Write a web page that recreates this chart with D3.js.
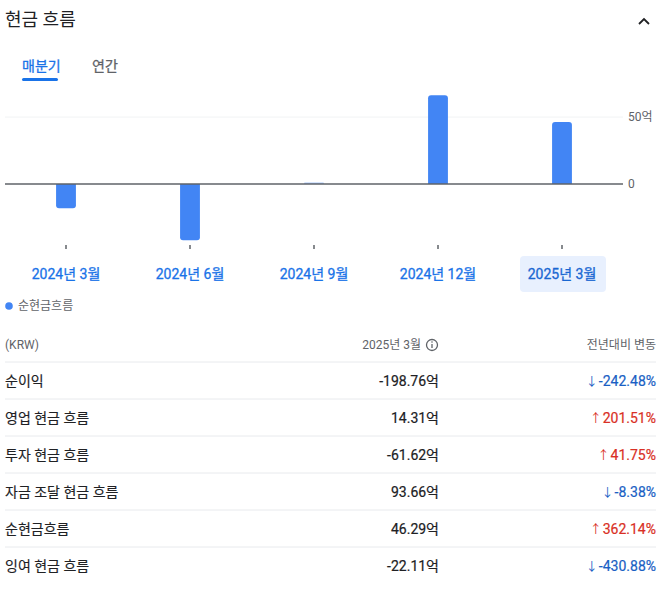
<!DOCTYPE html>
<html>
<head>
<meta charset="utf-8">
<script src="https://cdn.jsdelivr.net/npm/d3@7"></script>
<style>
  html, body { margin: 0; padding: 0; background: #fff; }
  svg { display: block; font-family: Roboto, "Noto Sans CJK KR", sans-serif; }
</style>
</head>
<body>
<svg id="chart" width="663" height="597"></svg>
<script>
// ---- data ----
const categories = ["2024년 3월", "2024년 6월", "2024년 9월", "2024년 12월", "2025년 3월"];
const netCashFlow = [-18.1, -42.1, 1.2, 66.2, 46.29];
const yTicks = [0, 50];
const rowLabels = ["순이익", "영업 현금 흐름", "투자 현금 흐름", "자금 조달 현금 흐름", "순현금흐름", "잉여 현금 흐름"];
const rowValues = ["-198.76억", "14.31억", "-61.62억", "93.66억", "46.29억", "-22.11억"];
const rowChanges = [-242.48, 201.51, 41.75, -8.38, 362.14, -430.88];
const rowChangeUp = [false, true, true, false, true, false];

const svg = d3.select("#chart");
const BLUE = "#1a73e8";
const FONT = 'Roboto, "Noto Sans CJK KR", sans-serif';

// ---- header ----
svg.append("text").attr("x", 5).attr("y", 26).attr("font-size", 18)
  .attr("fill", "#202124").text("현금 흐름");
svg.append("path").attr("d", "M639,24 L644,19 L649,24").attr("fill", "none")
  .attr("stroke", "#202124").attr("stroke-width", 1.8);

svg.append("text").attr("x", 22).attr("y", 71).attr("font-size", 14)
  .attr("fill", BLUE).attr("stroke", BLUE).attr("stroke-width", 0.3).text("매분기");
svg.append("rect").attr("x", 22).attr("y", 78).attr("width", 36).attr("height", 3)
  .attr("rx", 1.5).attr("fill", BLUE);
svg.append("text").attr("x", 92).attr("y", 71).attr("font-size", 14)
  .attr("fill", "#5f6368").attr("stroke", "#5f6368").attr("stroke-width", 0.3).text("연간");

// ---- chart ----
const x = d3.scaleBand().domain(categories).range([4, 624]).paddingInner(0.84).paddingOuter(0.42);
const pxPer = 1.339;
const y = d3.scaleLinear().domain([-50, 75]).range([184 + 50 * pxPer, 184 - 75 * pxPer]);

// gridline
svg.append("line").attr("x1", 5).attr("x2", 623).attr("y1", y(50)).attr("y2", y(50))
  .attr("stroke", "#f1f3f4").attr("stroke-width", 1);

// bars with rounded outer end
const r = 3;
function barPath(d, i) {
  const x0 = x(categories[i]), w = x.bandwidth();
  const y0 = y(0), y1 = y(d);
  const h = Math.abs(y1 - y0);
  const rr = Math.min(r, h / 2, w / 2);
  if (d >= 0) {
    return `M${x0},${y0} L${x0},${y1 + rr} Q${x0},${y1} ${x0 + rr},${y1} L${x0 + w - rr},${y1} Q${x0 + w},${y1} ${x0 + w},${y1 + rr} L${x0 + w},${y0} Z`;
  } else {
    return `M${x0},${y0} L${x0},${y1 - rr} Q${x0},${y1} ${x0 + rr},${y1} L${x0 + w - rr},${y1} Q${x0 + w},${y1} ${x0 + w},${y1 - rr} L${x0 + w},${y0} Z`;
  }
}
svg.append("g").selectAll("path").data(netCashFlow).join("path")
  .attr("d", (d, i) => barPath(d, i))
  .attr("fill", "#4285f4")
  .attr("fill-opacity", d => Math.abs(d) < 2 ? 0.45 : 1);

// zero line
svg.append("line").attr("x1", 5).attr("x2", 623).attr("y1", y(0)).attr("y2", y(0))
  .attr("stroke", "#5f6368").attr("stroke-width", 1.3);

// right axis
const yAxis = d3.axisRight(y).tickValues(yTicks).tickSize(0).tickPadding(5)
  .tickFormat(d => d === 0 ? "0" : d + "억");
const gy = svg.append("g").attr("transform", "translate(623,0)").call(yAxis);
gy.select(".domain").remove();
gy.selectAll("text").attr("font-size", 12).attr("fill", "#5f6368").attr("font-family", FONT);

// highlight for selected period
const last = categories[categories.length - 1];
const cx = x(last) + x.bandwidth() / 2;
svg.append("rect").attr("x", cx - 42).attr("y", 256).attr("width", 86).attr("height", 36)
  .attr("rx", 4).attr("fill", "#e8f0fe");

// bottom axis
const xAxis = d3.axisBottom(x).tickSize(4).tickPadding(20);
const gx = svg.append("g").attr("transform", "translate(0,245)").call(xAxis);
gx.select(".domain").remove();
gx.selectAll(".tick line").attr("stroke", "#5f6368").attr("stroke-width", 1.5);
gx.selectAll("text").attr("font-size", 14).attr("font-weight", 400)
  .attr("fill", BLUE).attr("stroke", BLUE).attr("stroke-width", 0.3).attr("font-family", FONT);
gx.selectAll(".tick").filter(d => d === last).select("text")
  .attr("fill", "#1967d2").attr("stroke", "#1967d2");

// legend
svg.append("circle").attr("cx", 9).attr("cy", 306).attr("r", 3.8).attr("fill", "#4285f4");
svg.append("text").attr("x", 18).attr("y", 310).attr("font-size", 12)
  .attr("fill", "#5f6368").text("순현금흐름");

// ---- table ----
svg.append("text").attr("x", 5).attr("y", 349).attr("font-size", 12)
  .attr("fill", "#5f6368").text("(KRW)");
svg.append("text").attr("x", 421).attr("y", 349).attr("font-size", 12)
  .attr("fill", "#5f6368").attr("text-anchor", "end").text("2025년 3월");
svg.append("circle").attr("cx", 432).attr("cy", 345).attr("r", 5.5).attr("fill", "none")
  .attr("stroke", "#5f6368").attr("stroke-width", 1.3);
svg.append("line").attr("x1", 432).attr("x2", 432).attr("y1", 344).attr("y2", 348)
  .attr("stroke", "#5f6368").attr("stroke-width", 1.3);
svg.append("circle").attr("cx", 432).attr("cy", 342).attr("r", 0.8).attr("fill", "#5f6368");
svg.append("text").attr("x", 656).attr("y", 349).attr("font-size", 12)
  .attr("fill", "#5f6368").attr("text-anchor", "end").text("전년대비 변동");

const rowY = d3.scaleBand().domain(d3.range(rowLabels.length)).range([362, 584]);
const rows = svg.append("g").selectAll("g").data(rowLabels).join("g")
  .attr("transform", (d, i) => `translate(0,${rowY(i)})`);
rows.append("line").attr("x1", 5).attr("x2", 656)
  .attr("y1", 0).attr("y2", 0).attr("stroke", "#e8eaed");
rows.append("text").attr("x", 5).attr("y", 24).attr("font-size", 14)
  .attr("fill", "#202124").attr("stroke", "#202124").attr("stroke-width", 0.15).text(d => d);
rows.append("text").attr("x", 439).attr("y", 24).attr("font-size", 14)
  .attr("text-anchor", "end").attr("fill", "#202124")
  .attr("stroke", "#202124").attr("stroke-width", 0.2)
  .text((d, i) => rowValues[i]);
const chg = rows.append("text").attr("x", 656).attr("y", 24).attr("font-size", 14)
  .attr("text-anchor", "end")
  .attr("fill", (d, i) => rowChangeUp[i] ? "#d93025" : "#1a5fc4");
chg.append("tspan").attr("font-size", 12).attr("dx", 0)
  .text((d, i) => rowChangeUp[i] ? "↑" : "↓");
chg.append("tspan").attr("dx", 1).attr("stroke", (d, i) => rowChangeUp[i] ? "#d93025" : "#1a5fc4")
  .attr("stroke-width", 0.2)
  .text((d, i) => rowChanges[i].toFixed(2) + "%");
</script>
</body>
</html>
